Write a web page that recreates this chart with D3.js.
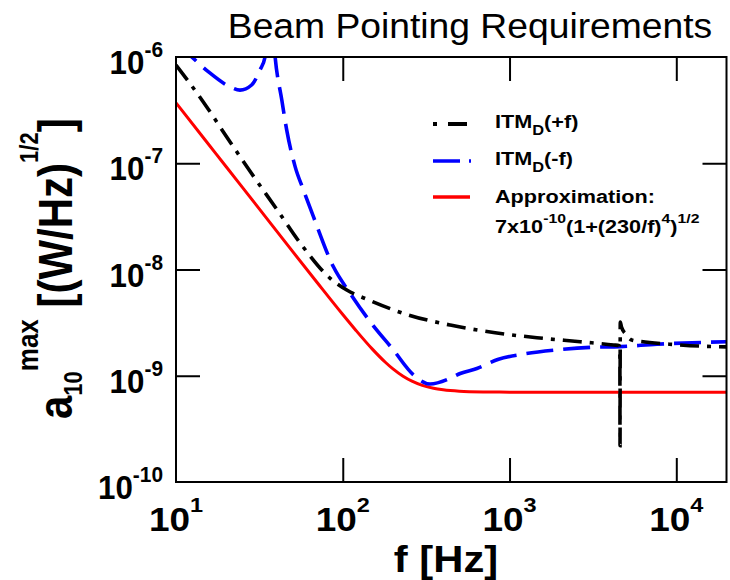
<!DOCTYPE html>
<html>
<head>
<meta charset="utf-8">
<script src="https://cdn.jsdelivr.net/npm/d3@7"></script>
<style>
  html, body { margin: 0; padding: 0; background: #fff; }
  svg { display: block; font-family: "Liberation Sans", Arial, sans-serif; }
</style>
</head>
<body>
<svg id="chart" width="730" height="580"></svg>
<script>
// ITM_D(+f) response, dash-dot black
const freqPlus = [10, 14.3, 20.1, 28.4, 40.2, 56.7, 84, 105.7, 142.6, 248, 441, 820, 1459, 2654, 4207, 4560, 4588, 4598, 4612, 4700, 5000, 5400, 6500, 9600, 14000, 20000];
const ampPlus  = [8.4e-7, 3.94e-7, 1.78e-7, 8.0e-8, 3.69e-8, 1.70e-8, 8.26e-9, 6.41e-9, 5.17e-9, 3.73e-9, 3.0e-9, 2.54e-9, 2.28e-9, 2.09e-9, 1.95e-9, 1.92e-9, 1.5e-9, 2.2e-10, 3.2e-9, 2.85e-9, 2.45e-9, 2.17e-9, 2.08e-9, 1.97e-9, 1.9e-9, 1.87e-9];

// ITM_D(-f) response, dashed blue
const freqMinus = [10, 12.1, 15.6, 21.1, 24.2, 28.4, 31.9, 34.2, 36, 37.2, 39.3, 43.1, 46.1, 51.8, 58.1, 66.7, 87.9, 110.7, 145.9, 201, 265.5, 334, 441, 506, 637, 859, 1213, 1923, 3050, 4600, 7656, 20000];
const ampMinus  = [1.35e-6, 1.04e-6, 7.28e-7, 5.24e-7, 4.88e-7, 5.45e-7, 7.55e-7, 1.0e-6, 3.0e-6, 3.0e-6, 1.0e-6, 3.94e-7, 2.06e-7, 9.3e-8, 5.6e-8, 3.14e-8, 1.06e-8, 5.97e-9, 3.23e-9, 1.75e-9, 1.02e-9, 8.36e-10, 9.46e-10, 1.05e-9, 1.17e-9, 1.43e-9, 1.60e-9, 1.75e-9, 1.85e-9, 1.88e-9, 1.98e-9, 2.09e-9];

// Approximation 7x10^-10 (1+(230/f)^4)^1/2, solid red
const freqApprox = [10, 15, 20, 30, 50, 70, 100, 120, 150, 180, 200, 230, 260, 300, 350, 400, 500, 700, 1000, 2000, 20000];
const ampApprox  = [3.70e-7, 1.646e-7, 9.26e-8, 4.12e-8, 1.48e-8, 7.59e-9, 3.77e-9, 2.67e-9, 1.79e-9, 1.34e-9, 1.16e-9, 9.90e-10, 8.89e-10, 8.12e-10, 7.62e-10, 7.37e-10, 7.15e-10, 7.04e-10, 7.01e-10, 7.00e-10, 7.00e-10];

// Tick labels: exponents of ten
const xTickExp = [1, 2, 3, 4];
const yTickExp = [-6, -7, -8, -9, -10];

const legendNames = ["ITM", "ITM", "Approximation:"];

const svg = d3.select("#chart");
const plotL = 176, plotR = 726.5, plotT = 57, plotB = 482;

const x = d3.scaleLog().domain([10, 2e4]).range([plotL, plotR]);
const y = d3.scaleLog().domain([1e-10, 1e-6]).range([plotB, plotT]);

svg.append("defs").append("clipPath").attr("id", "plotClip")
  .append("rect").attr("x", plotL).attr("y", plotT)
  .attr("width", plotR - plotL).attr("height", plotB - plotT);

function stext(px, py, sx, anchor) {
  return svg.append("text")
    .attr("transform", `translate(${px},${py}) scale(${sx},1)`)
    .attr("text-anchor", anchor || "start");
}

// Title
stext(470, 38, 1.08, "middle")
  .attr("font-size", 34.5).attr("fill", "#000")
  .text("Beam Pointing Requirements");

// Curves
const line = d3.line().x(d => x(d[0])).y(d => y(d[1])).curve(d3.curveMonotoneX);
const plot = svg.append("g").attr("clip-path", "url(#plotClip)");

plot.append("path").datum(d3.zip(freqApprox, ampApprox))
  .attr("d", line).attr("fill", "none")
  .attr("stroke", "#ff0000").attr("stroke-width", 3);

plot.append("path").datum(d3.zip(freqMinus, ampMinus))
  .attr("d", line).attr("fill", "none")
  .attr("stroke", "#0000ff").attr("stroke-width", 3.6)
  .attr("stroke-dasharray", "27,10");

plot.append("path").datum(d3.zip(freqPlus, ampPlus))
  .attr("d", line).attr("fill", "none")
  .attr("stroke", "#000").attr("stroke-width", 3.6)
  .attr("stroke-dasharray", "19,8,4,8");

// Frame
svg.append("rect").attr("x", plotL).attr("y", plotT)
  .attr("width", plotR - plotL).attr("height", plotB - plotT)
  .attr("fill", "none").attr("stroke", "#000").attr("stroke-width", 2);

// Inner ticks via d3 axes
const tickLen = 24;
const xVals = xTickExp.map(e => Math.pow(10, e));
const yVals = yTickExp.map(e => Math.pow(10, e));

function styleAxis(g) {
  g.select(".domain").remove();
  g.selectAll(".tick line").attr("stroke", "#000").attr("stroke-width", 2);
  g.selectAll(".tick text").remove();
}
svg.append("g").attr("transform", `translate(0,${plotB})`)
  .call(d3.axisTop(x).tickValues(xVals.slice(1)).tickSizeInner(tickLen).tickSizeOuter(0)).call(styleAxis);
svg.append("g").attr("transform", `translate(0,${plotT})`)
  .call(d3.axisBottom(x).tickValues(xVals.slice(1)).tickSizeInner(tickLen).tickSizeOuter(0)).call(styleAxis);
svg.append("g").attr("transform", `translate(${plotL},0)`)
  .call(d3.axisRight(y).tickValues(yVals.slice(1, 4)).tickSizeInner(tickLen).tickSizeOuter(0)).call(styleAxis);
svg.append("g").attr("transform", `translate(${plotR},0)`)
  .call(d3.axisLeft(y).tickValues(yVals.slice(1, 4)).tickSizeInner(tickLen).tickSizeOuter(0)).call(styleAxis);

// X tick labels
xTickExp.forEach(e => {
  const t = stext(x(Math.pow(10, e)), 531, 1.12, "middle")
    .attr("font-size", 33).attr("font-weight", "bold");
  t.append("tspan").text("10");
  t.append("tspan").attr("font-size", 21).attr("dy", -19).text(e);
});

// Y tick labels
yTickExp.forEach(e => {
  const t = stext(163, y(Math.pow(10, e)) + 17, 0.95, "end")
    .attr("font-size", 33).attr("font-weight", "bold");
  t.append("tspan").text("10");
  t.append("tspan").attr("font-size", 22).attr("dy", -17).text(e);
});

// X axis title
stext(446, 572, 1.16, "middle")
  .attr("font-size", 36).attr("font-weight", "bold")
  .text("f [Hz]");

// Y axis title (rotated)
const yt = svg.append("text")
  .attr("transform", "translate(72,419) scale(1.15,1) rotate(-90)")
  .attr("font-size", 42).attr("font-weight", "bold");
yt.append("tspan").text("a");
yt.append("tspan").attr("font-size", 22).attr("dy", 9).text("10");
yt.append("tspan").attr("font-size", 26).attr("dy", -39).text("max");
yt.append("tspan").attr("dy", 30).text(" [(W/Hz)");
yt.append("tspan").attr("font-size", 22).attr("dy", -30).text("1/2");
yt.append("tspan").attr("dy", 30).text("]");

// Legend
const lg = svg.append("g");
lg.append("line").attr("x1", 433).attr("x2", 467).attr("y1", 124).attr("y2", 124)
  .attr("stroke", "#000").attr("stroke-width", 4).attr("stroke-dasharray", "4,11,19");
lg.append("line").attr("x1", 433).attr("x2", 471).attr("y1", 161).attr("y2", 161)
  .attr("stroke", "#0000ff").attr("stroke-width", 3.5).attr("stroke-dasharray", "27,9");
lg.append("line").attr("x1", 433).attr("x2", 470).attr("y1", 197).attr("y2", 197)
  .attr("stroke", "#ff0000").attr("stroke-width", 3.5);

function legendLabel(py, name, suffix) {
  const t = stext(495, py, 1.17, "start").attr("font-size", 18.5).attr("font-weight", "bold");
  t.append("tspan").text(name);
  t.append("tspan").attr("font-size", 14).attr("dy", 7).text("D");
  t.append("tspan").attr("dy", -7).text(suffix);
}
legendLabel(128, legendNames[0], "(+f)");
legendLabel(165, legendNames[1], "(-f)");
stext(495, 203, 1.17, "start").attr("font-size", 18.5).attr("font-weight", "bold")
  .text(legendNames[2]);

const f = stext(495, 233, 1.17, "start").attr("font-size", 18.5).attr("font-weight", "bold");
f.append("tspan").text("7x10");
f.append("tspan").attr("font-size", 13.5).attr("dy", -10).text("-10");
f.append("tspan").attr("dy", 10).text("(1+(230/f)");
f.append("tspan").attr("font-size", 13.5).attr("dy", -10).text("4");
f.append("tspan").attr("dy", 10).text(")");
f.append("tspan").attr("font-size", 13.5).attr("dy", -10).text("1/2");
</script>
</body>
</html>
